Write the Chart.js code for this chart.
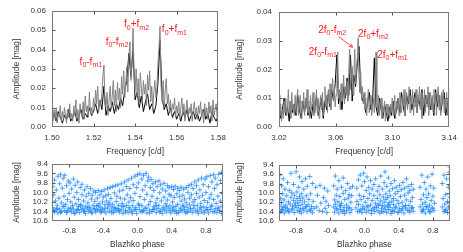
<!DOCTYPE html>
<html>
<head>
<meta charset="utf-8">
<script src="https://cdn.jsdelivr.net/npm/chart.js@4.4.1/dist/chart.umd.min.js"></script>
<style>
  body { margin: 0; background: #fff; }
  canvas { position: absolute; }
</style>
</head>
<body>
<canvas id="specLow" width="232" height="160" style="left:0;top:0"></canvas>
<canvas id="specHigh" width="231" height="160" style="left:232px;top:0"></canvas>
<canvas id="phaseLow" width="232" height="97" style="left:0;top:155px"></canvas>
<canvas id="phaseHigh" width="231" height="97" style="left:232px;top:155px"></canvas>
<script>
// Spectrum around f0 (1.50 - 1.58 c/d), grid start and step
const lowStart = 1.500;
const lowStepGray = 0.0005;
const lowStepBlack = 0.001;
const lowGray = [
  0.006,0.003,0.009,0.004,0.010,0.002,0.007,0.005,0.011,0.003,
  0.008,0.004,0.010,0.006,0.002,0.009,0.005,0.012,0.004,0.007,
  0.003,0.011,0.006,0.014,0.004,0.009,0.002,0.012,0.007,0.005,
  0.013,0.004,0.016,0.008,0.011,0.005,0.018,0.007,0.010,0.006,
  0.015,0.009,0.019,0.012,0.021,0.008,0.014,0.011,0.017,0.026,
  0.032,0.012,0.010,0.018,0.006,0.014,0.021,0.009,0.016,0.024,
  0.011,0.019,0.008,0.023,0.014,0.020,0.010,0.026,0.017,0.029,
  0.015,0.022,0.031,0.018,0.036,0.044,0.024,0.033,0.051,0.027,
  0.019,0.030,0.016,0.025,0.012,0.028,0.020,0.014,0.024,0.017,
  0.022,0.011,0.027,0.019,0.029,0.013,0.021,0.009,0.018,0.024,
  0.015,0.020,0.033,0.041,0.052,0.021,0.013,0.024,0.010,0.019,
  0.025,0.012,0.017,0.008,0.014,0.006,0.012,0.009,0.015,0.005,
  0.011,0.007,0.013,0.004,0.010,0.015,0.006,0.012,0.003,0.009,
  0.014,0.005,0.010,0.007,0.012,0.003,0.009,0.013,0.006,0.010,
  0.004,0.011,0.007,0.013,0.005,0.009,0.002,0.012,0.006,0.010,
  0.004,0.013,0.007,0.011,0.003,0.014,0.006,0.009,0.012,0.005,0.008
];
const lowBlack = [
  0.004,0.007,0.003,0.008,0.005,0.002,0.006,0.004,0.009,0.003,
  0.005,0.008,0.003,0.006,0.009,0.004,0.007,0.005,0.010,0.006,
  0.008,0.012,0.007,0.014,0.009,0.021,0.006,0.011,0.008,0.013,
  0.007,0.012,0.009,0.015,0.011,0.019,0.024,0.038,0.026,0.040,
  0.014,0.018,0.010,0.016,0.008,0.013,0.017,0.009,0.012,0.007,
  0.011,0.023,0.045,0.015,0.009,0.012,0.006,0.010,0.005,0.008,
  0.004,0.007,0.003,0.008,0.005,0.009,0.003,0.006,0.008,0.004,
  0.007,0.003,0.006,0.009,0.004,0.007,0.002,0.008,0.005,0.003,0.006
];

// Spectrum around 2f0 (3.02 - 3.14 c/d)
const highStart = 3.020;
const highStepGray = 0.0006;
const highStepBlack = 0.0012;
const highGray = [
  0.011,0.004,0.008,0.002,0.006,0.003,0.009,0.005,0.010,0.004,
  0.007,0.013,0.005,0.009,0.003,0.012,0.006,0.008,0.004,0.011,
  0.005,0.010,0.013,0.004,0.008,0.011,0.003,0.009,0.006,0.012,
  0.004,0.010,0.007,0.013,0.005,0.009,0.003,0.011,0.006,0.008,
  0.012,0.004,0.009,0.006,0.013,0.005,0.010,0.003,0.008,0.011,
  0.006,0.012,0.004,0.009,0.014,0.007,0.011,0.005,0.013,0.008,
  0.015,0.006,0.012,0.017,0.009,0.014,0.007,0.011,0.016,0.026,
  0.010,0.013,0.006,0.015,0.009,0.012,0.018,0.008,0.014,0.011,
  0.016,0.009,0.019,0.027,0.013,0.017,0.021,0.011,0.018,0.027,
  0.015,0.020,0.024,0.031,0.017,0.012,0.019,0.010,0.014,0.008,
  0.012,0.006,0.010,0.004,0.009,0.013,0.005,0.008,0.011,0.004,
  0.007,0.010,0.005,0.014,0.026,0.009,0.006,0.011,0.004,0.008,
  0.010,0.003,0.007,0.005,0.009,0.002,0.006,0.008,0.004,0.007,
  0.003,0.008,0.005,0.010,0.004,0.007,0.011,0.003,0.009,0.006,
  0.010,0.004,0.012,0.007,0.005,0.011,0.008,0.013,0.004,0.009,
  0.012,0.006,0.010,0.014,0.005,0.011,0.008,0.013,0.004,0.010,
  0.007,0.013,0.005,0.011,0.009,0.014,0.006,0.012,0.003,0.010,
  0.008,0.013,0.005,0.011,0.007,0.014,0.004,0.010,0.012,0.006,
  0.011,0.005,0.013,0.008,0.012,0.004,0.010,0.014,0.006,0.011,
  0.004,0.012,0.008,0.013,0.005,0.010,0.007,0.012,0.004,0.009,0.013
];
const highBlack = [
  0.008,0.003,0.006,0.010,0.004,0.007,0.002,0.009,0.005,0.008,
  0.004,0.011,0.006,0.003,0.009,0.005,0.010,0.004,0.007,0.003,
  0.008,0.005,0.011,0.004,0.007,0.010,0.003,0.009,0.006,0.012,
  0.007,0.013,0.009,0.015,0.025,0.008,0.012,0.006,0.014,0.010,
  0.017,0.011,0.025,0.009,0.018,0.014,0.022,0.028,0.013,0.009,
  0.011,0.005,0.008,0.012,0.006,0.009,0.024,0.007,0.004,0.010,
  0.006,0.003,0.008,0.005,0.002,0.007,0.004,0.009,0.003,0.006,
  0.010,0.005,0.012,0.007,0.004,0.011,0.008,0.013,0.006,0.009,
  0.012,0.005,0.010,0.007,0.013,0.004,0.011,0.008,0.012,0.006,
  0.010,0.004,0.013,0.007,0.011,0.005,0.009,0.012,0.004,0.008,0.011
];

// Light curve maxima vs Blazhko phase: [phase, mag]
const phaseLowPts = [
  [-0.99,10.32],[-0.99,9.88],[-0.98,10.05],[-0.97,10.41],[-0.97,9.74],[-0.96,10.18],[-0.95,10.36],[-0.95,9.95],[-0.94,10.27],[-0.93,9.66],
  [-0.93,10.43],[-0.92,10.12],[-0.91,9.82],[-0.91,10.35],[-0.90,9.62],[-0.89,10.22],[-0.89,10.40],[-0.88,9.91],[-0.87,10.30],[-0.87,9.70],
  [-0.86,10.08],[-0.85,10.38],[-0.85,9.64],[-0.84,10.25],[-0.83,9.86],[-0.83,10.42],[-0.82,10.15],[-0.81,9.76],[-0.81,10.33],[-0.80,10.02],
  [-0.79,10.37],[-0.79,9.80],[-0.78,10.20],[-0.77,10.41],[-0.77,9.93],[-0.76,10.28],[-0.75,9.72],[-0.75,10.35],[-0.74,10.10],[-0.73,10.43],
  [-0.73,9.85],[-0.72,10.24],[-0.71,10.00],[-0.71,10.38],[-0.70,9.78],[-0.69,10.30],[-0.69,10.15],[-0.68,10.42],[-0.67,9.90],[-0.67,10.26],
  [-0.66,10.36],[-0.65,10.05],[-0.65,9.83],[-0.64,10.33],[-0.63,10.40],[-0.63,10.18],[-0.62,9.95],[-0.61,10.29],[-0.61,10.44],[-0.60,10.08],
  [-0.59,10.35],[-0.59,9.88],[-0.58,10.22],[-0.57,10.40],[-0.57,10.02],[-0.56,10.31],[-0.55,9.92],[-0.55,10.37],[-0.54,10.14],[-0.53,10.43],
  [-0.53,10.06],[-0.52,10.27],[-0.51,9.97],[-0.51,10.34],[-0.50,10.19],[-0.49,10.41],[-0.49,10.00],[-0.48,10.29],[-0.47,10.12],[-0.47,10.38],
  [-0.46,9.96],[-0.45,10.24],[-0.45,10.36],[-0.44,10.05],[-0.43,10.31],[-0.43,10.42],[-0.42,9.98],[-0.41,10.20],[-0.41,10.35],[-0.40,10.10],
  [-0.39,10.39],[-0.39,9.95],[-0.38,10.26],[-0.37,10.07],[-0.37,10.43],[-0.36,10.18],[-0.35,9.92],[-0.35,10.33],[-0.34,10.04],[-0.33,10.40],
  [-0.33,10.22],[-0.32,9.90],[-0.31,10.30],[-0.31,10.13],[-0.30,10.37],[-0.29,9.88],[-0.29,10.25],[-0.28,10.42],[-0.27,10.01],[-0.27,10.32],
  [-0.26,9.86],[-0.25,10.19],[-0.25,10.39],[-0.24,10.08],[-0.23,9.84],[-0.23,10.34],[-0.22,10.27],[-0.21,9.97],[-0.21,10.41],[-0.20,10.12],
  [-0.19,10.36],[-0.19,9.82],[-0.18,10.23],[-0.17,10.44],[-0.17,9.95],[-0.16,10.30],[-0.15,9.78],[-0.15,10.14],[-0.14,10.38],[-0.13,9.88],
  [-0.13,10.27],[-0.12,10.05],[-0.11,10.42],[-0.11,9.74],[-0.10,10.20],[-0.09,10.35],[-0.09,9.92],[-0.08,10.11],[-0.07,9.70],[-0.07,10.40],
  [-0.06,10.28],[-0.05,9.84],[-0.05,10.17],[-0.04,10.37],[-0.03,9.66],[-0.03,10.02],[-0.02,10.32],[-0.01,9.90],[-0.01,10.44],[0.00,9.63],
  [0.01,10.24],[0.01,9.80],[0.02,10.36],[0.03,9.61],[0.03,10.09],[0.04,10.41],[0.05,9.72],[0.05,10.28],[0.06,9.95],[0.07,10.38],
  [0.07,9.64],[0.08,10.15],[0.09,9.86],[0.09,10.33],[0.10,9.60],[0.11,10.43],[0.11,10.04],[0.12,9.76],[0.13,10.26],[0.13,9.68],
  [0.14,10.37],[0.15,9.90],[0.15,10.19],[0.16,9.73],[0.17,10.40],[0.17,10.08],[0.18,9.82],[0.19,10.30],[0.19,9.96],[0.20,10.35],
  [0.21,9.78],[0.21,10.22],[0.22,10.42],[0.23,9.88],[0.23,10.13],[0.24,10.34],[0.25,9.76],[0.25,10.27],[0.26,10.01],[0.27,10.39],
  [0.27,9.84],[0.28,10.18],[0.29,10.44],[0.29,9.93],[0.30,10.31],[0.31,9.81],[0.31,10.10],[0.32,10.37],[0.33,9.97],[0.33,10.24],
  [0.34,10.41],[0.35,9.86],[0.35,10.16],[0.36,10.33],[0.37,10.04],[0.37,9.90],[0.38,10.28],[0.39,10.43],[0.39,10.07],[0.40,9.88],
  [0.41,10.35],[0.41,10.20],[0.42,9.94],[0.43,10.40],[0.43,10.11],[0.44,9.87],[0.45,10.29],[0.45,10.38],[0.46,10.03],[0.47,9.91],
  [0.47,10.25],[0.48,10.42],[0.49,10.09],[0.49,9.96],[0.50,10.33],[0.51,10.18],[0.51,9.89],[0.52,10.39],[0.53,10.06],[0.53,10.27],
  [0.54,9.93],[0.55,10.36],[0.55,10.14],[0.56,10.43],[0.57,9.90],[0.57,10.22],[0.58,10.31],[0.59,10.00],[0.59,10.40],[0.60,9.86],
  [0.61,10.26],[0.61,10.12],[0.62,10.37],[0.63,9.83],[0.63,10.05],[0.64,10.42],[0.65,10.20],[0.65,9.92],[0.66,10.33],[0.67,9.78],
  [0.67,10.15],[0.68,10.39],[0.69,10.02],[0.69,9.86],[0.70,10.28],[0.71,10.44],[0.71,9.74],[0.72,10.10],[0.73,10.35],[0.73,9.95],
  [0.74,10.23],[0.75,9.70],[0.75,10.41],[0.76,10.06],[0.77,9.84],[0.77,10.30],[0.78,10.17],[0.79,9.72],[0.79,10.38],[0.80,10.00],
  [0.81,10.32],[0.81,9.67],[0.82,10.21],[0.83,10.43],[0.83,9.88],[0.84,10.12],[0.85,9.65],[0.85,10.36],[0.86,10.04],[0.87,9.78],
  [0.87,10.27],[0.88,10.40],[0.89,9.63],[0.89,10.15],[0.90,9.92],[0.91,10.34],[0.91,9.70],[0.92,10.23],[0.93,10.42],[0.93,9.84],
  [0.94,10.08],[0.95,9.62],[0.95,10.31],[0.96,10.38],[0.97,9.75],[0.97,10.18],[0.98,9.58],[0.99,10.29],[0.99,10.02],[1.00,9.60],
  [-0.98,10.38],[-0.94,10.34],[-0.90,10.42],[-0.86,10.29],[-0.82,10.40],[-0.78,10.33],[-0.74,10.44],[-0.70,10.36],[-0.66,10.27],[-0.62,10.39],
  [-0.58,10.31],[-0.54,10.42],[-0.50,10.35],[-0.46,10.28],[-0.42,10.40],[-0.38,10.33],[-0.34,10.26],[-0.30,10.43],[-0.26,10.34],[-0.22,10.38],
  [-0.18,10.29],[-0.14,10.41],[-0.10,10.32],[-0.06,10.44],[-0.02,10.36],[0.02,10.27],[0.06,10.40],[0.10,10.33],[0.14,10.43],[0.18,10.36],
  [0.22,10.28],[0.26,10.41],[0.30,10.35],[0.34,10.29],[0.38,10.38],[0.42,10.31],[0.46,10.44],[0.50,10.37],[0.54,10.30],[0.58,10.42],
  [0.62,10.34],[0.66,10.27],[0.70,10.39],[0.74,10.32],[0.78,10.43],[0.82,10.36],[0.86,10.30],[0.90,10.41],[0.94,10.35],[0.98,10.44]
];
const phaseHighPts = [
  [-0.99,10.28],[-0.99,9.62],[-0.98,10.12],[-0.98,10.40],[-0.97,9.85],[-0.97,10.21],[-0.96,10.35],[-0.96,10.02],[-0.95,9.70],[-0.95,10.30],
  [-0.94,10.43],[-0.94,10.15],[-0.93,9.92],[-0.92,10.26],[-0.92,10.38],[-0.91,10.06],[-0.90,9.78],[-0.90,10.33],[-0.89,10.19],[-0.88,10.41],
  [-0.88,9.95],[-0.87,10.24],[-0.86,10.10],[-0.86,9.58],[-0.85,10.36],[-0.85,10.00],[-0.84,10.28],[-0.83,10.16],[-0.83,9.82],[-0.82,10.42],
  [-0.82,10.05],[-0.81,10.22],[-0.80,9.55],[-0.80,10.31],[-0.79,10.12],[-0.79,9.98],[-0.78,10.38],[-0.78,10.20],[-0.77,9.88],[-0.77,10.27],
  [-0.76,10.08],[-0.76,9.66],[-0.75,10.34],[-0.75,10.16],[-0.74,10.02],[-0.74,10.43],[-0.73,9.76],[-0.73,10.24],[-0.72,10.11],[-0.71,10.37],
  [-0.71,9.92],[-0.70,10.19],[-0.69,10.30],[-0.69,9.70],[-0.68,10.06],[-0.67,10.40],[-0.67,9.86],[-0.66,10.25],[-0.65,10.14],[-0.64,9.65],
  [-0.64,10.35],[-0.63,10.02],[-0.62,10.29],[-0.61,9.80],[-0.61,10.42],[-0.60,10.18],[-0.59,10.33],
  [-0.57,9.88],[-0.56,10.30],[-0.55,10.05],[-0.53,10.38],[-0.52,9.84],[-0.51,10.22],[-0.49,10.40],[-0.48,10.10],[-0.47,9.90],[-0.46,10.33],
  [-0.45,10.18],[-0.44,10.42],[-0.43,9.96],[-0.42,10.27],
  [-0.36,10.30],[-0.36,9.85],[-0.35,10.15],[-0.35,10.41],[-0.34,9.64],[-0.34,10.24],[-0.33,10.05],[-0.32,10.36],[-0.32,9.92],[-0.31,10.19],
  [-0.30,10.43],[-0.30,9.74],[-0.29,10.28],[-0.29,10.08],[-0.28,10.35],[-0.27,9.88],[-0.27,10.22],[-0.26,10.40],[-0.25,10.01],[-0.25,9.68],
  [-0.24,10.31],[-0.23,10.14],[-0.23,10.44],[-0.22,9.95],[-0.21,10.26],[-0.21,10.38],[-0.20,9.80],[-0.19,10.11],[-0.19,10.33],[-0.18,10.04],
  [-0.17,10.42],[-0.17,9.90],[-0.16,10.20],[-0.15,10.36],[-0.15,10.06],[-0.14,9.86],
  [-0.10,10.32],[-0.09,9.90],[-0.09,10.18],[-0.08,10.40],[-0.07,9.72],[-0.07,10.25],[-0.06,10.05],[-0.05,10.36],[-0.05,9.62],[-0.04,10.14],
  [-0.03,10.42],[-0.03,9.85],[-0.02,10.28],[-0.01,9.58],[-0.01,10.08],[0.00,10.35],[0.00,9.76],[0.01,10.20],[0.02,9.95],[0.02,10.41],
  [0.03,9.66],[0.03,10.30],[0.04,10.12],[0.05,9.88],[0.05,10.38],[0.06,10.02],[0.07,9.74],[0.07,10.26],[0.08,10.44],[0.09,9.92],
  [0.09,10.16],[0.10,10.34],[0.11,9.82],[0.11,10.06],[0.12,10.40],[0.13,9.70],[0.13,10.22],[0.14,10.31],[0.15,9.96],[0.15,10.12],
  [0.16,10.38],[0.17,9.86],[0.17,10.24],[0.18,10.04],[0.18,10.43],[0.19,9.64],[0.19,10.17],[0.20,10.33],[0.21,9.92],[0.21,10.27],
  [0.22,10.09],[0.22,10.40],[0.23,9.78],[0.23,10.20],[0.24,10.35],[0.24,9.55],[0.25,10.14],[0.25,10.02],[0.26,10.42],[0.26,9.86],
  [0.27,10.28],[0.27,10.10],[0.28,9.68],[0.28,10.36],[0.29,10.21],[0.29,9.96],[0.30,10.31],[0.30,10.06],[0.31,10.44],[0.31,9.80],
  [0.32,10.18],[0.33,10.37],[0.33,9.91],[0.34,10.25],[0.34,10.12],[0.35,9.74],[0.35,10.40],[0.36,10.02],[0.37,10.30],[0.37,9.88],
  [0.38,10.16],[0.39,10.42],[0.39,9.97],[0.40,10.23],[0.41,10.34],[0.41,9.84],[0.42,10.08],[0.43,10.38],[0.43,9.93],[0.44,10.20],
  [0.45,10.29],[0.45,9.78],[0.46,10.43],[0.47,10.05],[0.47,9.90],[0.48,10.32],[0.49,10.15],[0.49,9.70],[0.50,10.37],[0.51,10.00],
  [0.51,9.86],[0.52,10.27],[0.53,10.41],[0.53,9.95],[0.54,10.18],[0.55,10.33],[0.55,9.82],[0.56,10.10],[0.57,10.39],[0.57,9.92],
  [0.65,10.30],[0.65,9.88],[0.66,10.14],[0.67,10.40],[0.67,9.62],[0.68,10.24],[0.69,10.04],[0.69,10.35],[0.70,9.78],[0.71,10.20],
  [0.71,10.43],[0.72,9.92],[0.73,10.30],[0.73,10.10],[0.74,9.66],[0.75,10.36],[0.75,10.02],[0.76,10.26],[0.77,9.85],[0.77,10.41],
  [0.78,10.16],[0.79,9.60],[0.79,10.32],[0.80,10.07],[0.81,10.38],[0.81,9.90],[0.82,10.22],
  [0.91,10.30],[0.91,9.80],[0.92,10.12],[0.93,10.40],[0.93,9.62],[0.94,10.24],[0.95,10.04],[0.95,10.36],[0.96,9.70],[0.97,10.18],
  [0.97,10.42],[0.98,9.88],[0.99,10.28],[0.99,9.56],[1.00,10.10],[1.00,9.45],
  [-0.97,10.37],[-0.93,10.31],[-0.89,10.39],[-0.84,10.34],[-0.81,10.27],[-0.76,10.40],[-0.72,10.33],[-0.68,10.29],[-0.63,10.38],[-0.33,10.33],
  [-0.28,10.27],[-0.24,10.38],[-0.18,10.31],[-0.06,10.39],[-0.02,10.33],[0.04,10.28],[0.08,10.37],[0.12,10.31],[0.16,10.27],[0.20,10.40],
  [0.24,10.30],[0.28,10.25],[0.32,10.39],[0.36,10.32],[0.40,10.41],[0.44,10.34],[0.48,10.27],[0.52,10.38],[0.56,10.31],[0.68,10.37],
  [0.72,10.29],[0.76,10.40],[0.80,10.33],[0.94,10.38],[0.98,10.32]
];

// Tick values
const lowFreqTicks = [1.50, 1.52, 1.54, 1.56, 1.58];
const highFreqTicks = [3.02, 3.06, 3.10, 3.14];
const lowAmpTicks = [0.00, 0.01, 0.02, 0.03, 0.04, 0.05, 0.06];
const highAmpTicks = [0.00, 0.01, 0.02, 0.03, 0.04];
const phaseTicks = [-0.8, -0.4, 0.0, 0.4, 0.8];
const magTicks = [9.4, 9.6, 9.8, 10.0, 10.2, 10.4, 10.6];

const fontFamily = '"Liberation Sans", Arial, sans-serif';
const textColor = '#333';
const peakRed = '#ff1a1a';

function spectrumPoints(start, step, amps) {
    return amps.map((a, i) => ({ x: +(start + i * step).toFixed(5), y: a }));
}

// Frame around the plot area plus small inward ticks
const framePlugin = {
    id: 'frame',
    afterDraw(chart) {
        const { ctx, chartArea: a, scales } = chart;
        const l = Math.round(a.left) + 0.5, r = Math.round(a.right) - 0.5;
        const t = Math.round(a.top) + 0.5, b = Math.round(a.bottom) - 0.5;
        ctx.save();
        ctx.strokeStyle = '#7a7a7a';
        ctx.lineWidth = 1;
        ctx.strokeRect(l, t, r - l, b - t);
        ctx.strokeStyle = '#555';
        ctx.beginPath();
        scales.x.ticks.forEach(tk => {
            const px = Math.round(scales.x.getPixelForValue(tk.value)) + 0.5;
            if (px <= l + 1 || px >= r - 1) return;
            ctx.moveTo(px, b); ctx.lineTo(px, b - 3);
            ctx.moveTo(px, t); ctx.lineTo(px, t + 3);
        });
        scales.y.ticks.forEach(tk => {
            const py = Math.round(scales.y.getPixelForValue(tk.value)) + 0.5;
            if (py <= t + 1 || py >= b - 1) return;
            ctx.moveTo(l, py); ctx.lineTo(l + 3, py);
            ctx.moveTo(r, py); ctx.lineTo(r - 3, py);
        });
        ctx.stroke();
        ctx.restore();
    }
};

// Red peak labels with subscripts, placed in data coordinates
const peakLabelPlugin = {
    id: 'peakLabels',
    afterDatasetsDraw(chart, args, opts) {
        const { ctx, scales: { x, y } } = chart;
        const mainFont = '10px ' + fontFamily;
        const subFont = '7px ' + fontFamily;
        ctx.save();
        ctx.fillStyle = peakRed;
        ctx.strokeStyle = peakRed;
        ctx.textBaseline = 'middle';
        ctx.textAlign = 'left';
        (opts.items || []).forEach(item => {
            let w = 0;
            item.parts.forEach(p => {
                ctx.font = p[1] ? subFont : mainFont;
                w += ctx.measureText(p[0]).width;
            });
            let px = x.getPixelForValue(item.x) - w / 2;
            const py = y.getPixelForValue(item.y);
            item.parts.forEach(p => {
                ctx.font = p[1] ? subFont : mainFont;
                ctx.fillText(p[0], px, p[1] ? py + 3 : py);
                px += ctx.measureText(p[0]).width;
            });
        });
        (opts.arrows || []).forEach(ar => {
            const x1 = x.getPixelForValue(ar.from[0]), y1 = y.getPixelForValue(ar.from[1]);
            const x2 = x.getPixelForValue(ar.to[0]), y2 = y.getPixelForValue(ar.to[1]);
            const ang = Math.atan2(y2 - y1, x2 - x1);
            ctx.lineWidth = 0.8;
            ctx.beginPath();
            ctx.moveTo(x1, y1); ctx.lineTo(x2, y2);
            ctx.moveTo(x2, y2); ctx.lineTo(x2 - 4 * Math.cos(ang - 0.45), y2 - 4 * Math.sin(ang - 0.45));
            ctx.moveTo(x2, y2); ctx.lineTo(x2 - 4 * Math.cos(ang + 0.45), y2 - 4 * Math.sin(ang + 0.45));
            ctx.stroke();
        });
        ctx.restore();
    }
};

function axisX(min, max, ticks, digits, title, tickPad, titlePad, height) {
    return {
        type: 'linear', min: min, max: max,
        afterBuildTicks: s => { s.ticks = ticks.map(v => ({ value: v })); },
        afterFit: s => { s.height = height; },
        grid: { display: false, drawTicks: false },
        border: { display: false },
        ticks: {
            autoSkip: false, maxRotation: 0, padding: tickPad, color: textColor,
            font: { family: fontFamily, size: 8 },
            callback: v => v.toFixed(digits)
        },
        title: { display: true, text: title, color: textColor, padding: { top: 0, bottom: titlePad },
                 font: { family: fontFamily, size: 8.4 } }
    };
}

function axisY(min, max, ticks, digits, reverse, tickPad, titlePad, width) {
    return {
        type: 'linear', min: min, max: max, reverse: reverse,
        afterBuildTicks: s => { s.ticks = ticks.map(v => ({ value: v })); },
        afterFit: s => { s.width = width; },
        grid: { display: false, drawTicks: false },
        border: { display: false },
        ticks: {
            autoSkip: false, padding: tickPad, color: textColor,
            font: { family: fontFamily, size: 8 },
            callback: v => v.toFixed(digits)
        },
        title: { display: true, text: 'Amplitude [mag]', color: textColor, padding: { top: titlePad, bottom: 0 },
                 font: { family: fontFamily, size: 8.4 } }
    };
}

// gray spectrum drawn on top, black one shows through underneath
function spectrumChart(id, gray, black, xAxis, yAxis, padRight, labels) {
    return new Chart(document.getElementById(id), {
        type: 'line',
        data: {
            datasets: [
                { data: gray, borderColor: '#828282', borderWidth: 1, pointRadius: 0, order: 0 },
                { data: black, borderColor: '#000', borderWidth: 1, pointRadius: 0, order: 1 }
            ]
        },
        options: {
            responsive: false, animation: false, devicePixelRatio: 1,
            layout: { padding: { top: 10, right: padRight, left: 0, bottom: 0 } },
            plugins: { legend: { display: false }, tooltip: { enabled: false }, peakLabels: labels },
            scales: { x: xAxis, y: yAxis }
        },
        plugins: [framePlugin, peakLabelPlugin]
    });
}

function phaseChart(id, pts, yWidth, titlePad, yTickPad, padRight) {
    return new Chart(document.getElementById(id), {
        type: 'scatter',
        data: {
            datasets: [{
                data: pts.map(p => ({ x: p[0], y: p[1] })),
                pointStyle: 'cross', pointRadius: 2.5, borderWidth: 1,
                borderColor: 'rgba(25,135,255,0.75)', backgroundColor: 'rgba(25,135,255,0.75)'
            }]
        },
        options: {
            responsive: false, animation: false, devicePixelRatio: 1,
            layout: { padding: { top: 8, right: padRight, left: 0, bottom: 0 } },
            plugins: { legend: { display: false }, tooltip: { enabled: false } },
            scales: {
                x: axisX(-1, 1, phaseTicks, 1, 'Blazhko phase', 5, 2.5, 31),
                y: axisY(9.4, 10.6, magTicks, 1, true, yTickPad, titlePad, yWidth)
            }
        },
        plugins: [framePlugin]
    });
}

spectrumChart('specLow',
    spectrumPoints(lowStart, lowStepGray, lowGray),
    spectrumPoints(lowStart, lowStepBlack, lowBlack),
    axisX(1.50, 1.58, lowFreqTicks, 2, 'Frequency [c/d]', 6, 3.5, 33),
    axisY(0, 0.06, lowAmpTicks, 2, false, 6, 12, 52),
    9,
    {
        items: [
            { x: 1.5187, y: 0.0333, parts: [['f', 0], ['0', 1], ['-f', 0], ['m1', 1]] },
            { x: 1.5313, y: 0.0436, parts: [['f', 0], ['0', 1], ['-f', 0], ['m2', 1]] },
            { x: 1.5407, y: 0.0528, parts: [['f', 0], ['0', 1], ['+f', 0], ['m2', 1]] },
            { x: 1.5589, y: 0.0503, parts: [['f', 0], ['0', 1], ['+f', 0], ['m1', 1]] }
        ]
    });

spectrumChart('specHigh',
    spectrumPoints(highStart, highStepGray, highGray),
    spectrumPoints(highStart, highStepBlack, highBlack),
    axisX(3.02, 3.14, highFreqTicks, 2, 'Frequency [c/d]', 6, 3.5, 33),
    axisY(0, 0.04, highAmpTicks, 2, false, 7, 2.5, 47),
    13,
    {
        items: [
            { x: 3.0509, y: 0.0260, parts: [['2f', 0], ['0', 1], ['-f', 0], ['m1', 1]] },
            { x: 3.0575, y: 0.0335, parts: [['2f', 0], ['0', 1], ['-f', 0], ['m2', 1]] },
            { x: 3.0865, y: 0.0321, parts: [['2f', 0], ['0', 1], ['+f', 0], ['m2', 1]] },
            { x: 3.1000, y: 0.0250, parts: [['2f', 0], ['0', 1], ['+f', 0], ['m1', 1]] }
        ],
        arrows: [{ from: [3.0621, 0.0314], to: [3.0719, 0.0277] }]
    });

phaseChart('phaseLow', phaseLowPts, 52, 12, 4, 9);
phaseChart('phaseHigh', phaseHighPts, 47, 3, 5, 13);
</script>
</body>
</html>
